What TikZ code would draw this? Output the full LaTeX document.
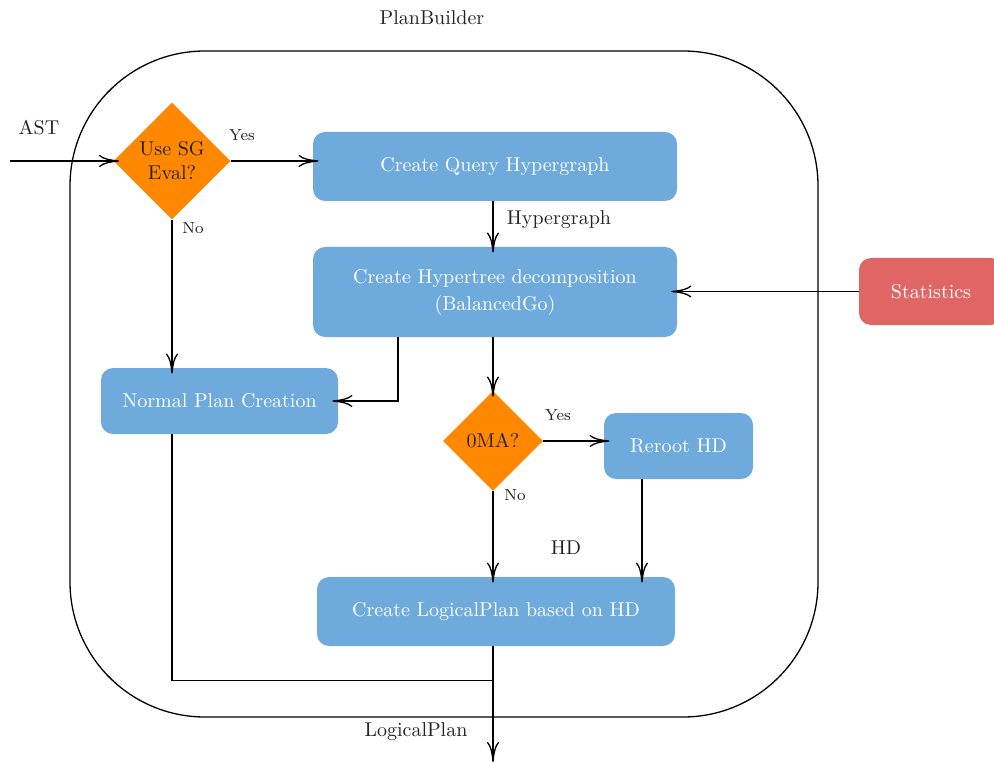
\documentclass[tikz,border=0pt]{standalone}
\usetikzlibrary{shapes.geometric,arrows.meta,calc}
\definecolor{boxblue}{HTML}{6FAADC}
\definecolor{decorange}{HTML}{FF8800}
\definecolor{statred}{HTML}{E06666}
\definecolor{inkgray}{HTML}{222222}
\tikzset{
  proc/.style={draw=none, fill=boxblue, rounded corners=6pt, text=white,
    align=center, inner sep=2pt},
  decide/.style={diamond, aspect=1, fill=decorange, draw=none, inner sep=0pt,
    align=center, text=inkgray},
  flow/.style={draw=black, line width=0.65pt, shorten >=-3pt,
    -{To[length=10pt,width=6pt,line width=0.65pt]}},
  wire/.style={draw=black, line width=0.65pt},
  lbl/.style={text=inkgray, inner sep=0pt},
  small/.style={lbl, font=\footnotesize},
}
\begin{document}
\begin{tikzpicture}[x=0.5pt, y=-0.5pt]
\useasboundingbox (0,0) rectangle (994,764);

% enclosing PlanBuilder frame
\node[lbl] (title) at (432,18) {PlanBuilder};
\draw[line width=0.65pt, rounded corners=67.5pt] (70,51) rectangle (818,717);

% nodes
\node[decide, minimum size=58.5pt] (d1) at (172,161) {Use SG\\Eval?};
\node[proc, minimum width=182pt, minimum height=34.5pt] (q) at (495,166.5) {Create Query Hypergraph};
\node[proc, minimum width=182pt, minimum height=45pt] (hd) at (495,292)
  {Create Hypertree decomposition\\[1.5pt](BalancedGo)};
\node[proc, fill=statred, minimum width=72pt, minimum height=33.5pt] (stat) at (931,291.5) {Statistics};
\node[proc, minimum width=118.5pt, minimum height=33pt] (np) at (219.5,401) {Normal Plan Creation};
\node[decide, minimum size=50pt] (d2) at (493,441) {0MA?};
\node[proc, minimum width=74.5pt, minimum height=33pt] (rr) at (678.5,446) {Reroot HD};
\node[proc, minimum width=179pt, minimum height=34.5pt] (lp) at (496,611.5) {Create LogicalPlan based on HD};

% free ends
\coordinate (in) at (10,161);
\coordinate (out) at (493,756);
\coordinate (join) at (493,680.5);

% connectors
\draw[flow] (in) -- (d1.west);
\draw[flow] (d1.east) -- (d1.east -| q.west);
\draw[flow] ([xshift=-1pt]q.south) -- ([xshift=-1pt]hd.north);
\draw[flow] (stat.west) -- (stat.west -| hd.east);
\draw[flow] (d1.south) -- (d1.south |- np.north);
\draw[flow] ([xshift=-48.5pt]hd.south) |- (np.east);
\draw[flow] ([xshift=-1pt]hd.south) -- (d2.north);
\draw[flow] (d2.east) -- (d2.east -| rr.west);
\draw[flow] ([xshift=-18.25pt]rr.south) -- ([xshift=-18.25pt]rr.south |- lp.north);
\draw[flow] (d2.south) -- (d2.south |- lp.north);
\draw[flow] (lp.south -| out) -- (out);
\draw[wire] (np.south -| d1.south) |- (join);

% labels
\node[lbl] (astlbl) at (39,128) {AST};
\node[small] (yes1) at (242,135) {Yes};
\node[small] (no1) at (193,228) {No};
\node[lbl] (hglbl) at (559,220) {Hypergraph};
\node[small] (yes2) at (558,415) {Yes};
\node[small] (no2) at (515,495) {No};
\node[lbl] (hdlbl) at (566,548) {HD};
\node[lbl] (lplbl) at (416,732) {LogicalPlan};
\end{tikzpicture}
\end{document}
